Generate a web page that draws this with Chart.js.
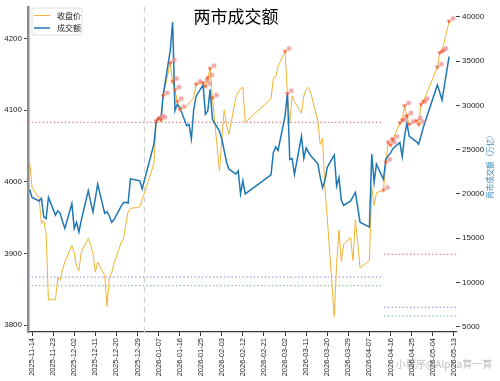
<!DOCTYPE html>
<html>
<head>
<meta charset="utf-8">
<script src="https://cdn.jsdelivr.net/npm/chart.js@4.4.1/dist/chart.umd.min.js"></script>
<style>
  html, body { margin: 0; padding: 0; background: #fff; }
  #wrap { width: 500px; height: 381px; }
</style>
</head>
<body>
<div id="wrap"><canvas id="chart" width="500" height="381"></canvas></div>
<script>
// trading days
const dates = [
  '2025-11-13','2025-11-14','2025-11-17','2025-11-18','2025-11-19','2025-11-20','2025-11-21',
  '2025-11-24','2025-11-25','2025-11-26','2025-11-27','2025-11-28',
  '2025-12-01','2025-12-02','2025-12-03','2025-12-04','2025-12-05',
  '2025-12-08','2025-12-09','2025-12-10','2025-12-11','2025-12-12',
  '2025-12-15','2025-12-16','2025-12-17','2025-12-18','2025-12-19',
  '2025-12-22','2025-12-23','2025-12-24','2025-12-25','2025-12-26',
  '2025-12-29','2025-12-30','2025-12-31',
  '2026-01-05','2026-01-06','2026-01-07','2026-01-08','2026-01-09',
  '2026-01-12','2026-01-13','2026-01-14','2026-01-15','2026-01-16',
  '2026-01-19','2026-01-20','2026-01-21','2026-01-22','2026-01-23',
  '2026-01-26','2026-01-27','2026-01-28','2026-01-29','2026-01-30',
  '2026-02-02','2026-02-03','2026-02-04','2026-02-05','2026-02-06',
  '2026-02-09','2026-02-10','2026-02-11','2026-02-12','2026-02-13',
  '2026-02-24','2026-02-25','2026-02-26','2026-02-27',
  '2026-03-02','2026-03-03','2026-03-04','2026-03-05','2026-03-06',
  '2026-03-09','2026-03-10','2026-03-11','2026-03-12','2026-03-13',
  '2026-03-16','2026-03-17','2026-03-18','2026-03-19','2026-03-20',
  '2026-03-23','2026-03-24','2026-03-25','2026-03-26','2026-03-27',
  '2026-03-30','2026-03-31','2026-04-01','2026-04-02','2026-04-03',
  '2026-04-07','2026-04-08','2026-04-09','2026-04-10',
  '2026-04-13','2026-04-14','2026-04-15','2026-04-16','2026-04-17',
  '2026-04-20','2026-04-21','2026-04-22','2026-04-23','2026-04-24',
  '2026-04-27','2026-04-28','2026-04-29','2026-04-30',
  '2026-05-06','2026-05-07','2026-05-08','2026-05-11'
];

// 收盘价
const closePrice = [
  4028, 3992, 3977, 3942, 3946, 3928, 3835,
  3836, 3866, 3862, 3877, 3888,
  3911, 3901, 3882, 3876, 3902,
  3921, 3912, 3900, 3874, 3888,
  3869, 3826, 3866, 3873, 3886,
  3915, 3920, 3940, 3958, 3963,
  3964, 3965, 3975,
  4025, 4085, 4088, 4086, 4120,
  4166, 4140, 4128, 4112, 4101,
  4105, 4110, 4113, 4118, 4136,
  4138, 4133, 4145, 4158, 4117,
  4015, 4060, 4100, 4080, 4066,
  4118, 4125, 4130, 4132, 4083,
  4116, 4145, 4146, 4161,
  4182, 4123, 4082, 4120, 4112,
  4096, 4120, 4129, 4132, 4124,
  4085, 4052, 4061, 3990, 3950,
  3812, 3886, 3932, 3889, 3913,
  3922, 3890, 3947, 3915, 3880,
  3890, 3992, 3967, 3985,
  3988, 4027, 4055, 4051, 4059,
  4082, 4086, 4106, 4092, 4080,
  4085, 4080, 4108, 4112,
  4160, 4180, 4182, 4224
];

// 成交额（亿）
const turnover = [
  20500, 19600, 19200, 19500, 17400, 17200, 19600,
  17600, 18100, 17800, 16900, 16100,
  18900, 16100, 16800, 15700, 17000,
  20360, 19100, 17950, 19500, 21100,
  17800, 18000, 17500, 16800, 17100,
  18600, 19000, 19050, 18950, 21700,
  21550, 21480, 20550,
  25600, 28200, 28600, 28400, 31200,
  36200, 39400, 29400, 30100, 29800,
  27700, 27850, 26200, 29500, 31000,
  32300, 29000, 29350, 31800, 28400,
  27100, 26200, 24900, 23600, 22800,
  22250, 22600, 20000, 21480, 20000,
  22150, 24650, 25300, 24900,
  28800, 31400, 23900, 24000, 22200,
  26500, 24000, 25200, 24700, 24300,
  23400, 21900, 20700, 21500, 23000,
  24400, 20900, 21850, 19300, 18700,
  19200, 19700, 20170, 18500, 16800,
  16250, 24500, 21300, 23350,
  21650, 23900, 24300, 24600, 25100,
  25800, 24200, 26500, 28000, 26500,
  25900, 25600, 26500, 27500,
  32300, 31500, 30600, 35500
];

// 信号日
const signalDates = [
  '2026-01-06','2026-01-07','2026-01-08','2026-01-09','2026-01-12','2026-01-13',
  '2026-01-14','2026-01-15','2026-01-16',
  '2026-01-23','2026-01-26','2026-01-27','2026-01-28','2026-01-29','2026-01-30',
  '2026-03-02','2026-03-03',
  '2026-04-13','2026-04-14','2026-04-15','2026-04-16','2026-04-17',
  '2026-04-20','2026-04-21','2026-04-22','2026-04-23','2026-04-24',
  '2026-04-27','2026-04-28','2026-04-29','2026-04-30',
  '2026-05-06','2026-05-07','2026-05-08','2026-05-11'
];

const tickDates = [
  '2025-11-14','2025-11-23','2025-12-02','2025-12-11','2025-12-20','2025-12-29',
  '2026-01-07','2026-01-16','2026-01-25','2026-02-03','2026-02-12','2026-02-21',
  '2026-03-02','2026-03-11','2026-03-20','2026-03-29','2026-04-07','2026-04-16',
  '2026-04-25','2026-05-04','2026-05-13'
];
const leftTicks = [3800, 3900, 4000, 4100, 4200];
const rightTicks = [5000, 10000, 15000, 20000, 25000, 30000, 35000, 40000];

const closeRefs = [4083, 3867, 3855];
const turnoverRefs = [13170, 7180, 6200];
const refColors = ['#e67a7e', '#9a8fe6', '#82c282'];
const splitDate = '2026-04-12';
const yearStart = '2026-01-01';

const titleText = '两市成交额';
const rightTitle = '两市成交额（万亿）';
const watermark = '小程序@Alpha算一算';

const BASE = Date.UTC(2025, 10, 14);
function dayOf(s) {
  const p = s.split('-').map(Number);
  return (Date.UTC(p[0], p[1] - 1, p[2]) - BASE) / 86400000;
}
function labelOf(n) {
  return new Date(BASE + Math.round(n) * 86400000).toISOString().slice(0, 10);
}

const X_MIN = -1.73, X_MAX = 180.96;

const closePts = dates.map((d, i) => ({ x: dayOf(d), y: closePrice[i] }));
const turnPts = dates.map((d, i) => ({ x: dayOf(d), y: turnover[i] }));
const signalPts = signalDates.map(d => ({ x: dayOf(d), y: closePrice[dates.indexOf(d)] }));

function makeMarker() {
  const c = document.createElement('canvas');
  c.width = 16; c.height = 16;
  const g = c.getContext('2d');
  g.fillStyle = 'rgba(240,170,170,0.75)';
  g.strokeStyle = 'rgba(220,100,100,0.7)';
  g.lineWidth = 0.6;
  g.beginPath(); g.arc(12, 5, 2.1, 0, Math.PI * 2); g.fill(); g.stroke();
  g.fillStyle = 'rgba(205,70,70,0.8)';
  g.fillRect(11.5, 4.5, 1, 1);
  g.fillStyle = 'rgba(244,88,44,0.9)';
  g.beginPath(); g.moveTo(5.6, 6.6); g.lineTo(10.4, 6.6); g.lineTo(8, 10.2); g.closePath(); g.fill();
  return c;
}

function refSet(val, color, axis, from, to) {
  return {
    type: 'line', data: [{ x: from, y: val }, { x: to, y: val }], yAxisID: axis,
    borderColor: color, borderWidth: 1.2, borderDash: [1.3, 2.4],
    pointRadius: 0, order: 3
  };
}

const refSets = [];
closeRefs.forEach((v, i) => refSets.push(refSet(v, refColors[i], 'y', X_MIN, dayOf(splitDate))));
turnoverRefs.forEach((v, i) => refSets.push(refSet(v, refColors[i], 'y1', dayOf(splitDate) + 1.3, X_MAX)));

const overlay = {
  id: 'overlay',
  beforeDraw(chart) {
    const ctx = chart.ctx;
    ctx.save();
    ctx.fillStyle = 'rgba(170,170,170,0.75)';
    ctx.font = '10px "Noto Sans CJK SC"';
    ctx.textAlign = 'center';
    ctx.textBaseline = 'middle';
    ctx.fillText(watermark, 444, 364);
    ctx.restore();
  },
  beforeDatasetsDraw(chart) {
    const ctx = chart.ctx, a = chart.chartArea;
    const x = chart.scales.x.getPixelForValue(dayOf(yearStart));
    ctx.save();
    ctx.strokeStyle = '#d2d2d2';
    ctx.lineWidth = 1.3;
    ctx.setLineDash([6, 4]);
    ctx.beginPath(); ctx.moveTo(x, a.top); ctx.lineTo(x, a.bottom); ctx.stroke();
    ctx.restore();
  },
  afterDraw(chart) {
    const ctx = chart.ctx, a = chart.chartArea;
    ctx.save();
    // title
    ctx.fillStyle = '#000';
    ctx.font = '17px "Noto Sans CJK SC"';
    ctx.textAlign = 'center';
    ctx.textBaseline = 'middle';
    ctx.fillText(titleText, 236, 17);
    // right axis title
    ctx.save();
    ctx.translate(490, 165);
    ctx.rotate(-Math.PI / 2);
    ctx.fillStyle = '#3a8cc0';
    ctx.font = '7.5px "Noto Sans CJK SC"';
    ctx.fillText(rightTitle, 0, 0);
    ctx.restore();
    // legend
    const lx = a.left + 4, ly = 8, lw = 50, lh = 27;
    ctx.fillStyle = 'rgba(255,255,255,0.85)';
    ctx.strokeStyle = '#d6d6d6';
    ctx.lineWidth = 0.8;
    ctx.beginPath();
    ctx.roundRect(lx, ly, lw, lh, 2);
    ctx.fill(); ctx.stroke();
    const items = [chart.data.datasets[1], chart.data.datasets[2]];
    items.forEach((ds, i) => {
      const yy = ly + 7.5 + i * 12.5;
      ctx.strokeStyle = ds.borderColor;
      ctx.lineWidth = ds.borderWidth;
      ctx.beginPath(); ctx.moveTo(lx + 2, yy); ctx.lineTo(lx + 18, yy); ctx.stroke();
      ctx.fillStyle = '#222';
      ctx.font = '8px "Noto Sans CJK SC"';
      ctx.textAlign = 'left';
      ctx.fillText(ds.label, lx + 25, yy);
    });
    ctx.restore();
  }
};

const tickFont = { family: '"Liberation Sans", "DejaVu Sans", sans-serif', size: 8 };

new Chart(document.getElementById('chart'), {
  type: 'line',
  data: {
    datasets: [
      {
        label: 'signal', data: signalPts, yAxisID: 'y', showLine: false,
        pointStyle: makeMarker(), pointRadius: 5, order: 0, clip: false
      },
      {
        label: '收盘价', data: closePts, yAxisID: 'y',
        borderColor: '#f1b232', borderWidth: 1, pointRadius: 0, tension: 0, order: 2
      },
      {
        label: '成交额', data: turnPts, yAxisID: 'y1',
        borderColor: '#1f77b4', borderWidth: 1.5, pointRadius: 0, tension: 0, order: 1
      },
      ...refSets
    ]
  },
  options: {
    responsive: false,
    animation: false,
    devicePixelRatio: 1,
    layout: { padding: { top: 5, left: 0, right: 0, bottom: 0 } },
    plugins: { legend: { display: false }, tooltip: { enabled: false } },
    scales: {
      x: {
        type: 'linear', min: X_MIN, max: X_MAX,
        afterBuildTicks: s => { s.ticks = tickDates.map(d => ({ value: dayOf(d) })); },
        ticks: {
          callback: v => labelOf(v), autoSkip: false, minRotation: 90, maxRotation: 90,
          font: { family: tickFont.family, size: 7.5 }, color: '#222', padding: 2
        },
        grid: { display: true, drawOnChartArea: false, drawTicks: true, tickLength: 4, tickColor: '#333', tickWidth: 1 },
        border: { display: true, color: '#3a3a3a', width: 1.3 },
        afterFit: s => { s.height = 49; }
      },
      y: {
        position: 'left', min: 3790.3, max: 4244.4,
        afterBuildTicks: s => { s.ticks = leftTicks.map(v => ({ value: v })); },
        ticks: { callback: v => String(v), font: tickFont, color: '#222', padding: 2 },
        grid: { display: true, drawOnChartArea: false, drawTicks: true, tickLength: 4, tickColor: '#444', tickWidth: 1 },
        border: { display: true, color: '#8c8c8c', width: 2.5 },
        afterFit: s => { s.width = 28; }
      },
      y1: {
        position: 'right', min: 4405, max: 41123,
        afterBuildTicks: s => { s.ticks = rightTicks.map(v => ({ value: v })); },
        ticks: { callback: v => String(v), font: tickFont, color: '#222', padding: 2 },
        grid: { display: true, drawOnChartArea: false, drawTicks: true, tickLength: 4, tickColor: '#444', tickWidth: 1 },
        border: { display: false },
        afterFit: s => { s.width = 44; }
      }
    }
  },
  plugins: [overlay]
});
</script>
</body>
</html>
